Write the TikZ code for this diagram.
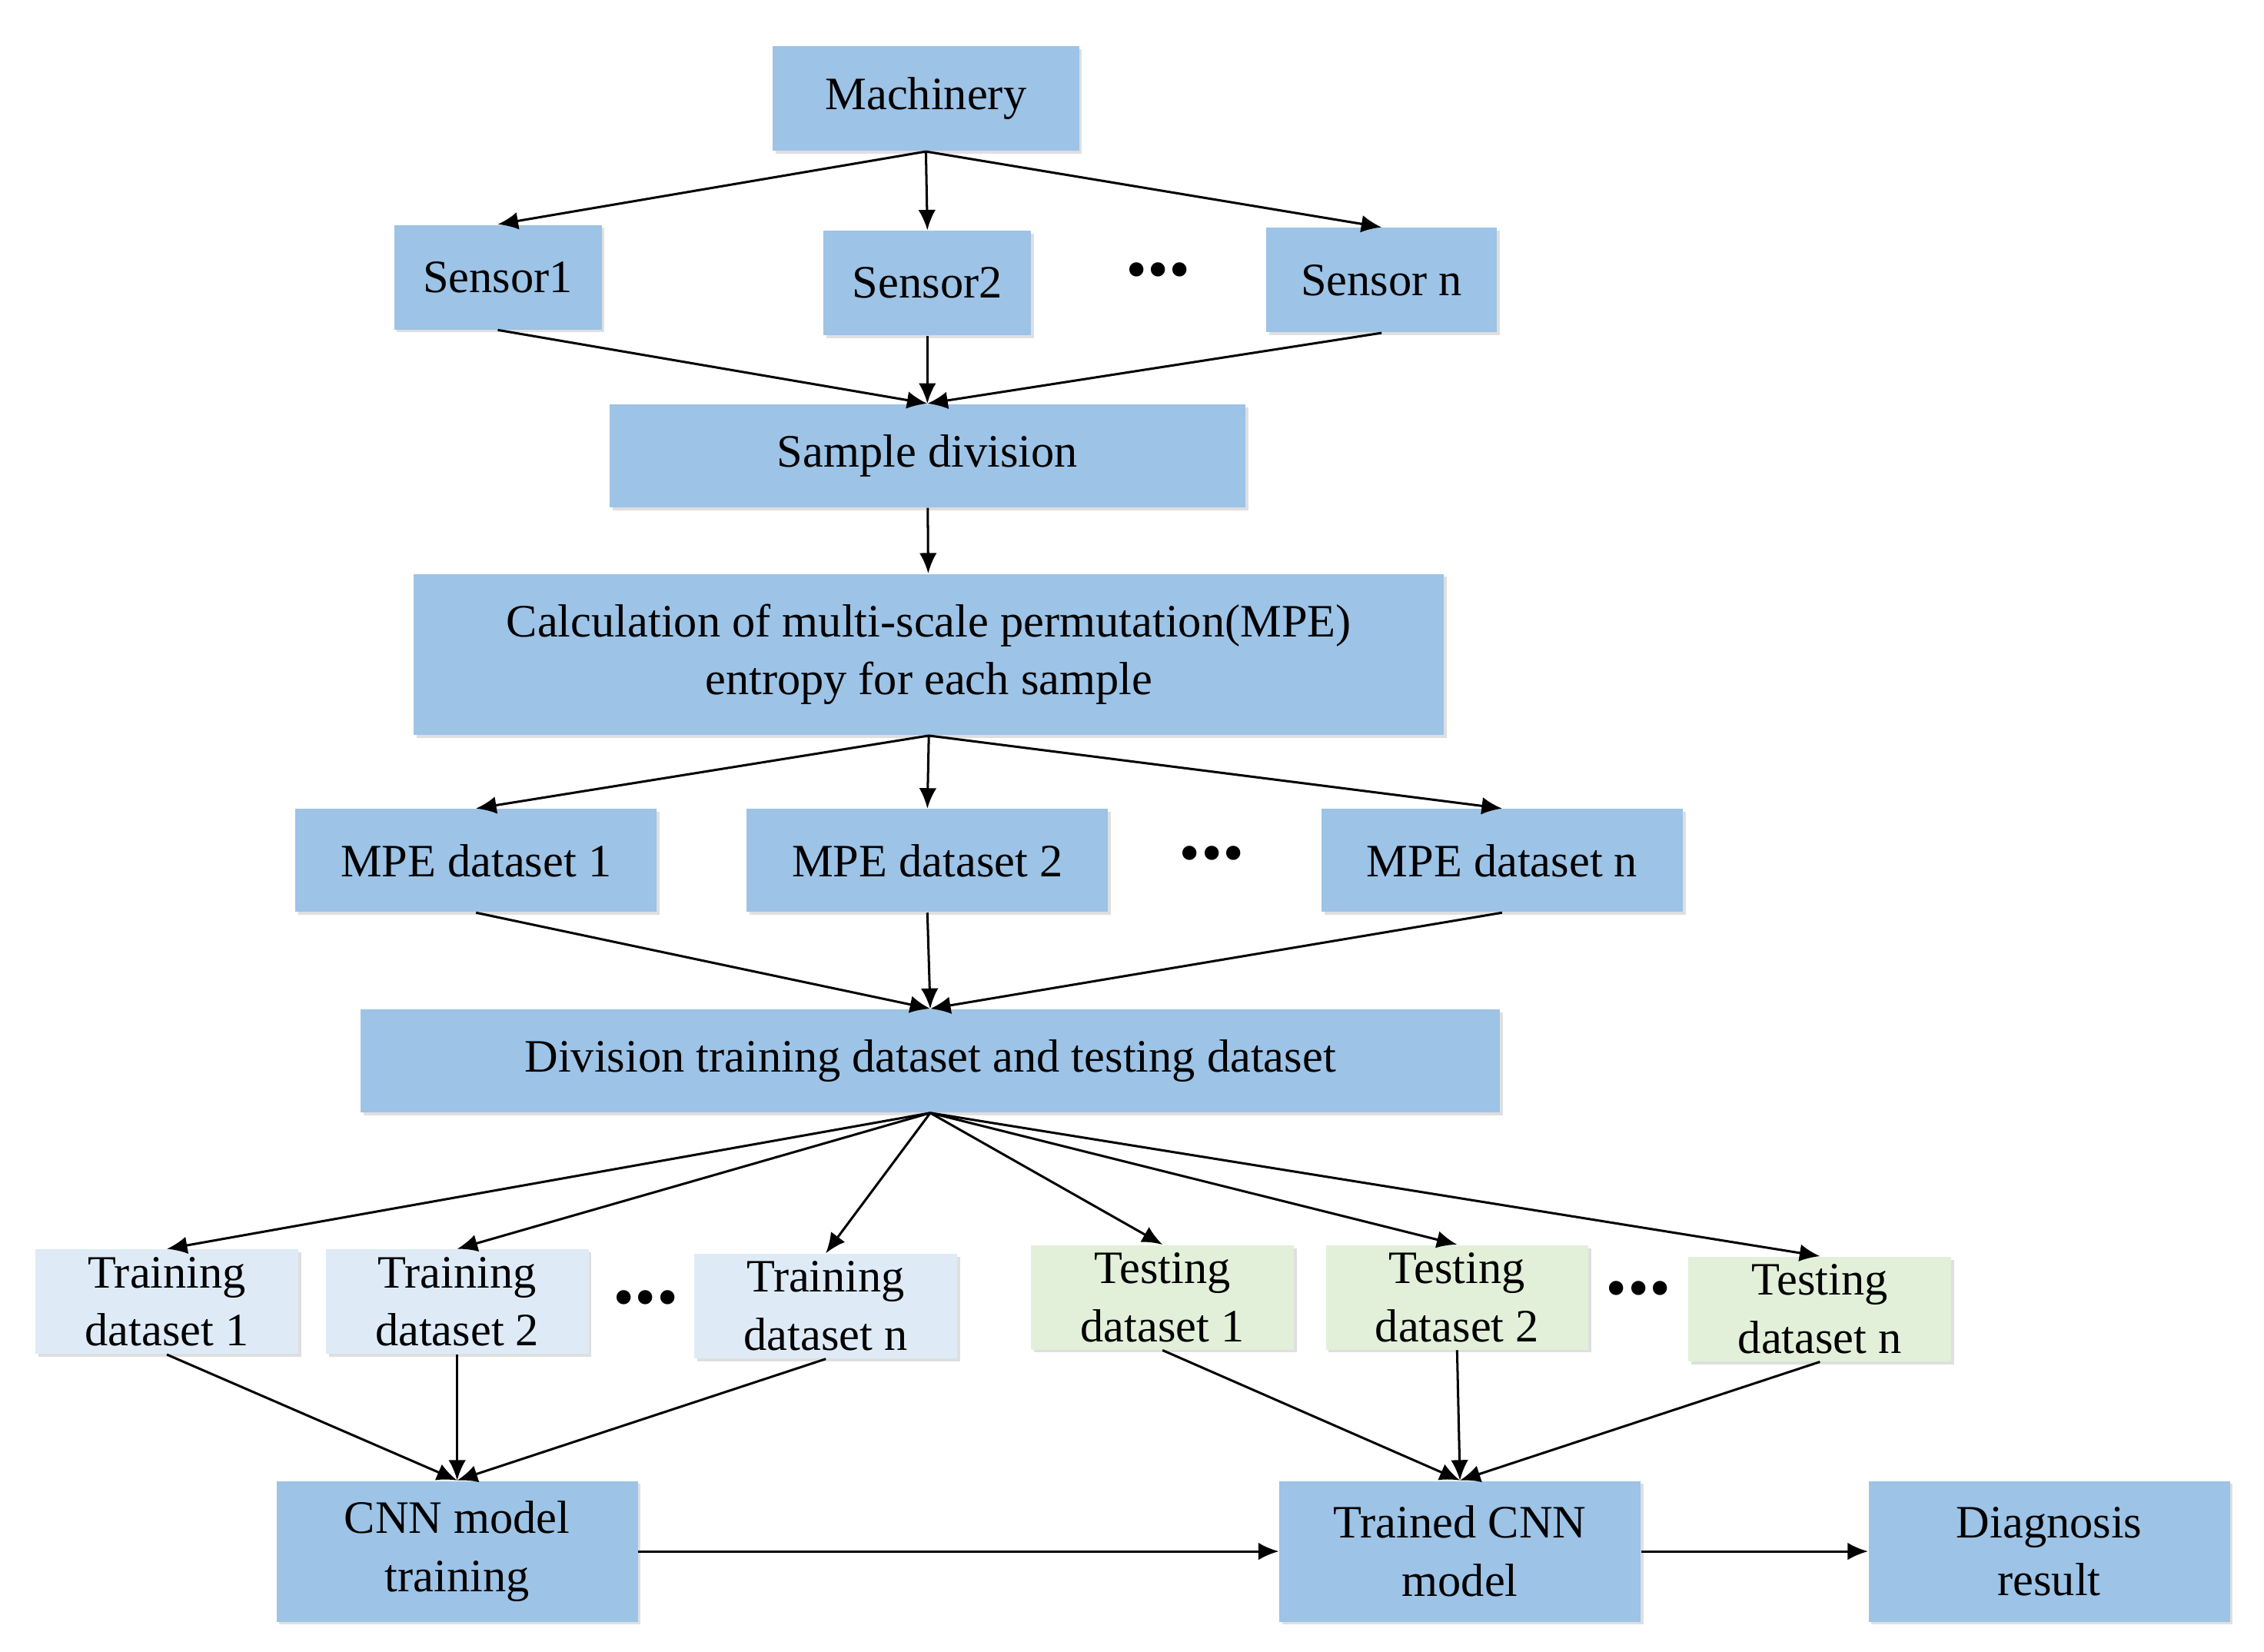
\documentclass[tikz,border=0pt]{standalone}
\usepackage{fontspec}
\setmainfont{Liberation Serif}
\usetikzlibrary{arrows.meta,shadows}
\definecolor{boxblue}{RGB}{157,195,230}
\definecolor{lightblue}{RGB}{222,235,247}
\definecolor{lightgreen}{RGB}{226,240,217}
\tikzset{
  box/.style={fill=boxblue,draw=none,align=center,inner sep=0pt,
    font=\fontsize{16}{20}\selectfont,drop shadow={shadow xshift=1pt,shadow yshift=-1pt,opacity=0.25}},
  trainbox/.style={box,fill=lightblue},
  testbox/.style={box,fill=lightgreen},
  dots/.style={font=\fontsize{30}{30}\selectfont\bfseries},
  arr/.style={-{Latex[length=7pt,width=6pt]},line width=0.8pt}
}
\begin{document}
\begin{tikzpicture}[x=0.5pt,y=-0.5pt]
			\useasboundingbox (0,0) rectangle (1560,1138);
			\node[box,minimum width=105.5pt,minimum height=36pt] (mach) at (638,68) {Machinery};
			\node[box,minimum width=71.5pt,minimum height=36pt] (s1) at (343,191) {Sensor1};
			\node[box,minimum width=71.5pt,minimum height=36pt] (s2) at (639,195) {Sensor2};
			\node[box,minimum width=79.5pt,minimum height=36pt] (sn) at (952,193) {Sensor n};
			\node[dots] (d1) at (798,186) {...};
			\node[box,minimum width=219pt,minimum height=35.5pt] (samp) at (639,314) {Sample division};
			\node[box,minimum width=355pt,minimum height=55.5pt] (calc) at (640,451) {Calculation of multi-scale permutation(MPE)\\entropy for each sample};
			\node[box,minimum width=124.5pt,minimum height=35.5pt] (m1) at (328,593) {MPE dataset 1};
			\node[box,minimum width=124.5pt,minimum height=35.5pt] (m2) at (639,593) {MPE dataset 2};
			\node[box,minimum width=124.5pt,minimum height=35.5pt] (mn) at (1035,593) {MPE dataset n};
			\node[dots] (d2) at (835,588) {...};
			\node[box,minimum width=392.5pt,minimum height=35.5pt] (div) at (641,731) {Division training dataset and testing dataset};
			\node[trainbox,minimum width=90.5pt,minimum height=36pt] (tr1) at (115,897) {Training\\dataset 1};
			\node[trainbox,minimum width=90.5pt,minimum height=36pt] (tr2) at (315,897) {Training\\dataset 2};
			\node[trainbox,minimum width=90.5pt,minimum height=36pt] (trn) at (569,900) {Training\\dataset n};
			\node[dots] (d3) at (445,894) {...};
			\node[testbox,minimum width=90.5pt,minimum height=36pt] (te1) at (801,894) {Testing\\dataset 1};
			\node[testbox,minimum width=90.5pt,minimum height=36pt] (te2) at (1004,894) {Testing\\dataset 2};
			\node[testbox,minimum width=90.5pt,minimum height=36pt] (ten) at (1254,902) {Testing\\dataset n};
			\node[dots] (d4) at (1129,888) {...};
			\node[box,minimum width=124.5pt,minimum height=48.5pt] (cnn) at (315,1069) {CNN model\\training};
			\node[box,minimum width=124.5pt,minimum height=48.5pt] (tcnn) at (1006,1069) {Trained CNN\\model};
			\node[box,minimum width=124.5pt,minimum height=48.5pt] (diag) at (1412,1069) {Diagnosis\\result};
			\foreach \n in {s1,s2,sn} {
				\draw[arr] (mach.south) -- (\n.north);
				\draw[arr] (\n.south) -- (samp.north);
			}
			\draw[arr] (samp) -- (calc);
			\foreach \n in {m1,m2,mn} {
				\draw[arr] (calc.south) -- (\n.north);
				\draw[arr] (\n.south) -- (div.north);
			}
			\foreach \n in {tr1,tr2,trn,te1,te2,ten}
				\draw[arr] (div.south) -- (\n.north);
			\foreach \n in {tr1,tr2,trn}
				\draw[arr] (\n.south) -- (cnn.north);
			\foreach \n in {te1,te2,ten}
				\draw[arr] (\n.south) -- (tcnn.north);
			\draw[arr] (cnn) -- (tcnn);
			\draw[arr] (tcnn) -- (diag);
		\end{tikzpicture}
\end{document}
